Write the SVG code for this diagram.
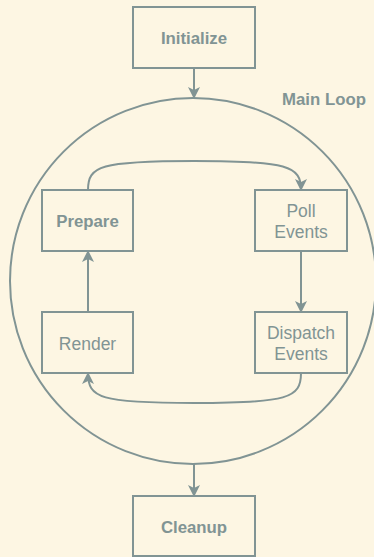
<svg xmlns="http://www.w3.org/2000/svg" width="374" height="557" viewBox="0 0 374 557">
<style>
.box{fill:none;stroke:#819494;stroke-width:2}
.ln{fill:none;stroke:#819494;stroke-width:2}
.t{font-family:"Liberation Sans",Arial,sans-serif;font-size:17.5px;fill:#819494;text-anchor:middle}
.b{font-weight:bold;font-size:16.8px}
</style>
<defs>
<marker id="ah" viewBox="0 0 12 12" refX="11" refY="6" markerWidth="12" markerHeight="12" markerUnits="userSpaceOnUse" orient="auto">
<path d="M0,0 L12,6 L0,12 L3,6 z" fill="#819494"/>
</marker>
</defs>
<rect width="374" height="557" fill="#fdf6e3"/>
<g id="mainloop">
<circle cx="193" cy="281" r="183" class="box"/>
<text x="324" y="105" class="t b">Main Loop</text>
</g>
<g id="initialize">
<rect x="133" y="7" width="122" height="61" class="box"/>
<text x="194" y="44" class="t b">Initialize</text>
</g>
<g id="prepare">
<rect x="42" y="190" width="91" height="61" class="box"/>
<text x="87.5" y="227" class="t b">Prepare</text>
</g>
<g id="poll">
<rect x="255" y="190" width="92" height="61" class="box"/>
<text x="301" y="217" class="t">Poll</text>
<text x="301" y="238" class="t">Events</text>
</g>
<g id="render">
<rect x="42" y="312" width="91" height="61" class="box"/>
<text x="87.5" y="350" class="t">Render</text>
</g>
<g id="dispatch">
<rect x="255" y="312" width="92" height="61" class="box"/>
<text x="301" y="339" class="t">Dispatch</text>
<text x="301" y="360" class="t">Events</text>
</g>
<g id="cleanup">
<rect x="133" y="496" width="122" height="60" class="box"/>
<text x="194" y="533" class="t b">Cleanup</text>
</g>
<g id="connectors">
<path d="M194,68 L194,98" class="ln" marker-end="url(#ah)"/>
<path d="M88,190 C88,166 100,161 194,161 C288,161 301,166 301,190" class="ln" marker-end="url(#ah)"/>
<path d="M301,251 L301,312" class="ln" marker-end="url(#ah)"/>
<path d="M301,373 C301,398 288,403 194,403 C100,403 88,398 88,373" class="ln" marker-end="url(#ah)"/>
<path d="M88,312 L88,251" class="ln" marker-end="url(#ah)"/>
<path d="M194,464 L194,496" class="ln" marker-end="url(#ah)"/>
</g>
</svg>
